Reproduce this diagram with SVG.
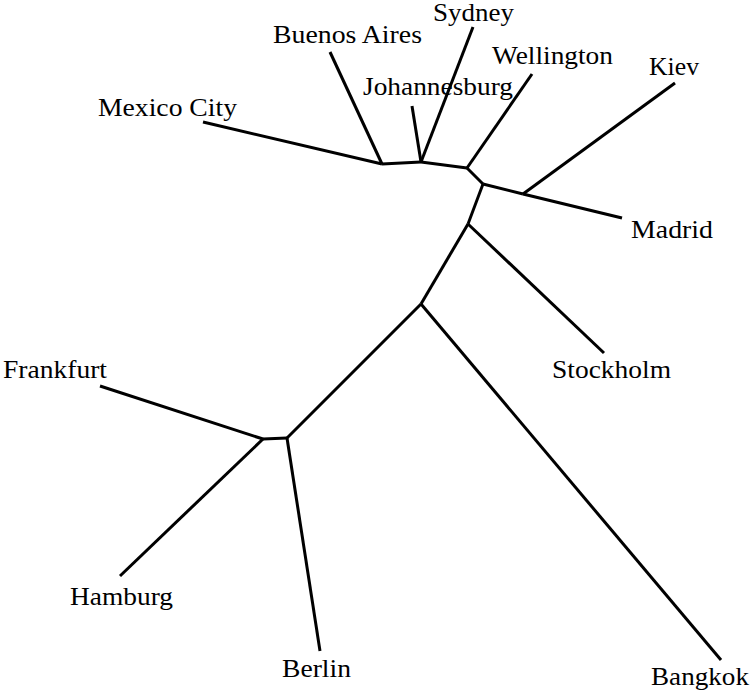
<svg xmlns="http://www.w3.org/2000/svg" width="750" height="690" viewBox="0 0 750 690">
<style>
.e{stroke:#000;stroke-width:3;fill:none;stroke-linejoin:round}
text{font-family:'Liberation Serif','Times New Roman','DejaVu Serif',serif;font-size:24.5px;fill:#000}
</style>
<rect width="750" height="690" fill="#fff"/>
<g id="connectors">
<line class="e" x1="203" y1="122" x2="382" y2="164"/>
<line class="e" x1="330" y1="52" x2="382" y2="164"/>
<line class="e" x1="382" y1="164" x2="421" y2="162"/>
<line class="e" x1="412" y1="106" x2="421" y2="162"/>
<line class="e" x1="473" y1="27" x2="421" y2="162"/>
<line class="e" x1="421" y1="162" x2="467" y2="168"/>
<line class="e" x1="532" y1="74" x2="467" y2="168"/>
<line class="e" x1="467" y1="168" x2="483" y2="184"/>
<line class="e" x1="483" y1="184" x2="523" y2="194"/>
<line class="e" x1="675" y1="83" x2="523" y2="194"/>
<line class="e" x1="523" y1="194" x2="622" y2="218"/>
<line class="e" x1="483" y1="184" x2="468" y2="224"/>
<line class="e" x1="468" y1="224" x2="604" y2="353"/>
<line class="e" x1="468" y1="224" x2="421" y2="304"/>
<line class="e" x1="421" y1="304" x2="721" y2="660"/>
<line class="e" x1="421" y1="304" x2="287" y2="438"/>
<line class="e" x1="287" y1="438" x2="320" y2="651"/>
<line class="e" x1="287" y1="438" x2="263" y2="439"/>
<line class="e" x1="263" y1="439" x2="100" y2="386"/>
<line class="e" x1="263" y1="439" x2="120" y2="576"/>
</g>
<g id="sydney"><text x="433" y="21" textLength="81" lengthAdjust="spacingAndGlyphs">Sydney</text></g>
<g id="buenos-aires"><text x="273" y="43" textLength="149" lengthAdjust="spacingAndGlyphs">Buenos Aires</text></g>
<g id="johannesburg"><text x="363" y="95" textLength="150" lengthAdjust="spacingAndGlyphs">Johannesburg</text></g>
<g id="mexico-city"><text x="98" y="116" textLength="139" lengthAdjust="spacingAndGlyphs">Mexico City</text></g>
<g id="wellington"><text x="492" y="64" textLength="121" lengthAdjust="spacingAndGlyphs">Wellington</text></g>
<g id="kiev"><text x="649" y="75" textLength="50" lengthAdjust="spacingAndGlyphs">Kiev</text></g>
<g id="madrid"><text x="631" y="238" textLength="82" lengthAdjust="spacingAndGlyphs">Madrid</text></g>
<g id="stockholm"><text x="552" y="378" textLength="119" lengthAdjust="spacingAndGlyphs">Stockholm</text></g>
<g id="frankfurt"><text x="3" y="378" textLength="104" lengthAdjust="spacingAndGlyphs">Frankfurt</text></g>
<g id="hamburg"><text x="70" y="605" textLength="103" lengthAdjust="spacingAndGlyphs">Hamburg</text></g>
<g id="berlin"><text x="282" y="677" textLength="69" lengthAdjust="spacingAndGlyphs">Berlin</text></g>
<g id="bangkok"><text x="651" y="685" textLength="98" lengthAdjust="spacingAndGlyphs">Bangkok</text></g>
</svg>
